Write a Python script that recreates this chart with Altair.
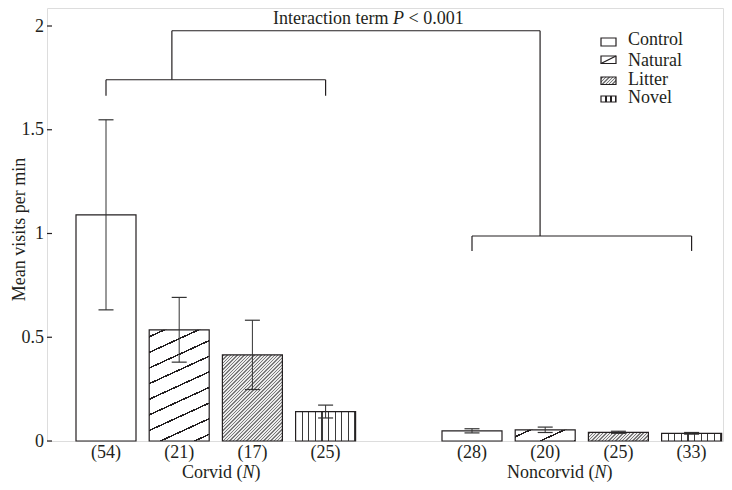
import math
import altair as alt
import pandas as pd

# ---------------- data ----------------
groups = ["Corvid", "Noncorvid"]
treatments = ["Control", "Natural", "Litter", "Novel"]
corvid_mean = [1.090, 0.536, 0.415, 0.142]
corvid_se = [0.458, 0.156, 0.167, 0.031]
corvid_n = [54, 21, 17, 25]
noncorvid_mean = [0.049, 0.054, 0.042, 0.037]
noncorvid_se = [0.010, 0.013, 0.005, 0.004]
noncorvid_n = [28, 20, 25, 33]
y_ticks = [0, 0.5, 1, 1.5, 2]

# annotation brackets (y in data units, x in slot units)
top_bracket_y = 1.977
top_bracket_ends = [0.9, 5.93]
corvid_bracket = [1.741, 1.664]
noncorvid_bracket = [0.988, 0.916]
annotation = ["Interaction term", "P", "< 0.001"]

# ---------------- layout ----------------
OX, OY = 47, 8            # page position of the plot's top-left corner
W, H = 676, 433
PX_PER_UNIT = 207.5
YMAX = H / PX_PER_UNIT
STEP, FIRST = 73.2, 59.0
BAR_PX, CAP_PX = 60, 15
INK = "#231f20"
FONT = "Liberation Serif"
FS = 18


def px(page_x):
    return page_x - OX


def py(page_y):
    return page_y - OY


xscale = alt.Scale(domain=[-FIRST / STEP, (W - FIRST) / STEP], nice=False, zero=False)
yscale = alt.Scale(domain=[0, YMAX], nice=False, zero=False)
yaxis = alt.Axis(values=y_ticks, format="~g", ticks=False, tickSize=0, domain=False, grid=False,
                 labelFont=FONT, labelFontSize=FS, labelColor=INK, labelPadding=3.5,
                 title="Mean visits per min", titleFont=FONT, titleFontSize=FS,
                 titleFontWeight="normal", titleColor=INK, titleAngle=270,
                 titleX=px(24.5), titleY=py(229), titleAlign="center",
                 titleBaseline="alphabetic")

half = BAR_PX / 2 / STEP
cap = CAP_PX / 2 / STEP

rows = []
for gi, (g, means, ses, ns) in enumerate([
        ("Corvid", corvid_mean, corvid_se, corvid_n),
        ("Noncorvid", noncorvid_mean, noncorvid_se, noncorvid_n)]):
    for ti, t in enumerate(treatments):
        slot = gi * (len(treatments) + 1) + ti
        m, s = means[ti], ses[ti]
        rows.append(dict(key=f"{g}-{t}", group=g, treat=t, slot=slot,
                         x0=slot - half, x1=slot + half, mean=m, zero=0.0,
                         lo=m - s, hi=m + s, c0=slot - cap, c1=slot + cap,
                         label=f"({ns[ti]})"))
df = pd.DataFrame(rows)


def GS(o, c):
    return alt.GradientStop(offset=round(o, 5), color=c)


def stripe_fill(w, h, angle, period, lw, color, bg="white", phase=None):
    a = math.radians(angle)
    nx, ny = math.sin(a), math.cos(a)
    if abs(nx) < 1e-9:
        nx = 0.0
    if abs(ny) < 1e-9:
        ny = 0.0
    D = w * nx + h * ny
    denom = (nx * w) ** 2 + (ny * h) ** 2
    k = D / denom
    x2, y2 = k * nx * w, k * ny * h
    stops = [GS(0, bg)]
    s = period / 2 if phase is None else phase
    last = 0
    while s - lw / 2 < D:
        a0 = max(last, (s - lw / 2) / D)
        a1 = min(1, (s + lw / 2) / D)
        stops += [GS(a0, bg), GS(a0, color), GS(a1, color), GS(a1, bg)]
        last = a1
        s += period
    stops.append(GS(1, bg))
    return alt.LinearGradient(gradient="linear", stops=stops, x1=0, y1=0,
                              x2=round(x2, 5), y2=round(y2, 5))


LITTER_LINE, LITTER_BG = "#7a7a7a", "#ebebeb"


def pattern_for(treat, w, h):
    if treat == "Control":
        return "white"
    if treat == "Natural":
        return stripe_fill(w, h, 24.6, 14.2, 1.5, INK, phase=6.4)
    if treat == "Litter":
        return stripe_fill(w, h, 45, 2.4, 1.0, LITTER_LINE, bg=LITTER_BG)
    return stripe_fill(w, h, 90, 6.6, 1.1, "#3a3a3a", phase=6.6)


base = alt.Chart(df)
layers = []

# bars
for r in df.itertuples():
    fill = pattern_for(r.treat, BAR_PX, r.mean * PX_PER_UNIT)
    layers.append(
        base.transform_filter(alt.datum.key == r.key)
        .mark_bar(fill=fill, stroke=INK, strokeWidth=1.2)
        .encode(x=alt.X("x0:Q", scale=xscale, axis=None), x2="x1:Q",
                y=alt.Y("mean:Q", scale=yscale, axis=yaxis), y2="zero:Q")
    )

# error bars
layers.append(base.mark_rule(color="#333333", strokeWidth=1).encode(
    x=alt.X("slot:Q", scale=xscale, axis=None),
    y=alt.Y("lo:Q", scale=yscale, axis=yaxis), y2="hi:Q"))
for end in ["lo", "hi"]:
    layers.append(base.mark_rule(color="#333333", strokeWidth=1.2).encode(
        x=alt.X("c0:Q", scale=xscale, axis=None), x2="c1:Q",
        y=alt.Y(f"{end}:Q", scale=yscale, axis=yaxis)))

# count labels under bars
layers.append(base.mark_text(font=FONT, fontSize=FS, color=INK, baseline="alphabetic").encode(
    x=alt.X("slot:Q", scale=xscale, axis=None), y=alt.value(py(458)), text="label:N"))

# inward y ticks
tick_df = pd.DataFrame({"v": y_ticks})
layers.append(alt.Chart(tick_df).mark_rule(color=INK, strokeWidth=1.2).encode(
    y=alt.Y("v:Q", scale=yscale, axis=yaxis), x=alt.value(0), x2=alt.value(5)))

# brackets
c_first, c_last = df[df.group == "Corvid"].slot.min(), df[df.group == "Corvid"].slot.max()
n_first, n_last = df[df.group == "Noncorvid"].slot.min(), df[df.group == "Noncorvid"].slot.max()
seg = []
for (a, b), (yb, yl) in [((c_first, c_last), corvid_bracket), ((n_first, n_last), noncorvid_bracket)]:
    seg.append(dict(xa=a, xb=b, ya=yb, yb=yb))
    seg.append(dict(xa=a, xb=a, ya=yb, yb=yl))
    seg.append(dict(xa=b, xb=b, ya=yb, yb=yl))
tl, tr = top_bracket_ends
seg.append(dict(xa=tl, xb=tr, ya=top_bracket_y, yb=top_bracket_y))
seg.append(dict(xa=tl, xb=tl, ya=top_bracket_y, yb=corvid_bracket[0]))
seg.append(dict(xa=tr, xb=tr, ya=top_bracket_y, yb=noncorvid_bracket[0]))
seg_df = pd.DataFrame(seg)
layers.append(alt.Chart(seg_df).mark_rule(color=INK, strokeWidth=1.2).encode(
    x=alt.X("xa:Q", scale=xscale, axis=None), x2="xb:Q",
    y=alt.Y("ya:Q", scale=yscale, axis=yaxis), y2="yb:Q"))


def text_piece(txt, x, y, italic=False, align="left"):
    return alt.Chart(pd.DataFrame({"t": [txt]})).mark_text(
        font=FONT, fontSize=FS, color=INK, align=align, baseline="alphabetic",
        fontStyle="italic" if italic else "normal").encode(
        text="t:N", x=alt.value(x), y=alt.value(y))


# annotation text "Interaction term P < 0.001"
ax0, ay = px(273), py(24)
layers.append(text_piece(annotation[0], ax0, ay))
layers.append(text_piece(annotation[1], ax0 + 120, ay, italic=True))
layers.append(text_piece(annotation[2], ax0 + 135.5, ay))

# group labels "Corvid (N)" / "Noncorvid (N)"
for g, x0, w0 in [("Corvid", px(182), 60.5), ("Noncorvid", px(507), 87.5)]:
    layers.append(text_piece(f"{g} (", x0, py(478)))
    layers.append(text_piece("N", x0 + w0, py(478), italic=True))
    layers.append(text_piece(")", x0 + w0 + 12, py(478)))

# legend
LX, LW = px(601), 15
leg_y = [(py(38), py(46)), (py(56), py(63.5)), (py(77), py(84.5)), (py(96), py(102))]
leg_base = [py(45), py(65.7), py(85), py(103.3)]
leg_df = pd.DataFrame({"t": treatments})
for i, t in enumerate(treatments):
    y0, y1 = leg_y[i]
    if t == "Novel":
        fill = stripe_fill(LW, y1 - y0, 90, LW / 3, 1.1, INK, phase=LW / 3)
    elif t == "Litter":
        fill = stripe_fill(LW, y1 - y0, 45, 2.4, 1.0, LITTER_LINE, bg=LITTER_BG)
    else:
        fill = "white"
    layers.append(alt.Chart(leg_df).transform_filter(alt.datum.t == t).mark_rect(
        fill=fill, stroke=INK, strokeWidth=1.2).encode(
        x=alt.value(LX), x2=alt.value(LX + LW), y=alt.value(y0), y2=alt.value(y1)))
    if t == "Natural":
        layers.append(alt.Chart(leg_df).transform_filter(alt.datum.t == t).mark_rule(
            color=INK, strokeWidth=1.3).encode(
            x=alt.value(LX), x2=alt.value(LX + LW), y=alt.value(y1), y2=alt.value(y0)))
    layers.append(alt.Chart(leg_df).transform_filter(alt.datum.t == t).mark_text(
        font=FONT, fontSize=FS, color=INK, align="left", baseline="alphabetic").encode(
        text="t:N", x=alt.value(px(628)), y=alt.value(leg_base[i])))

chart = alt.layer(*layers).properties(
    width=W, height=H,
    padding={"left": OX - 8, "top": OY - 8, "right": 1, "bottom": 474 - H},
    autosize=alt.AutoSizeParams(type="none"),
).configure_view(stroke=INK, strokeWidth=1.2).configure(background="white")

chart.save("out.html", embed_options={"renderer": "svg", "actions": False})
